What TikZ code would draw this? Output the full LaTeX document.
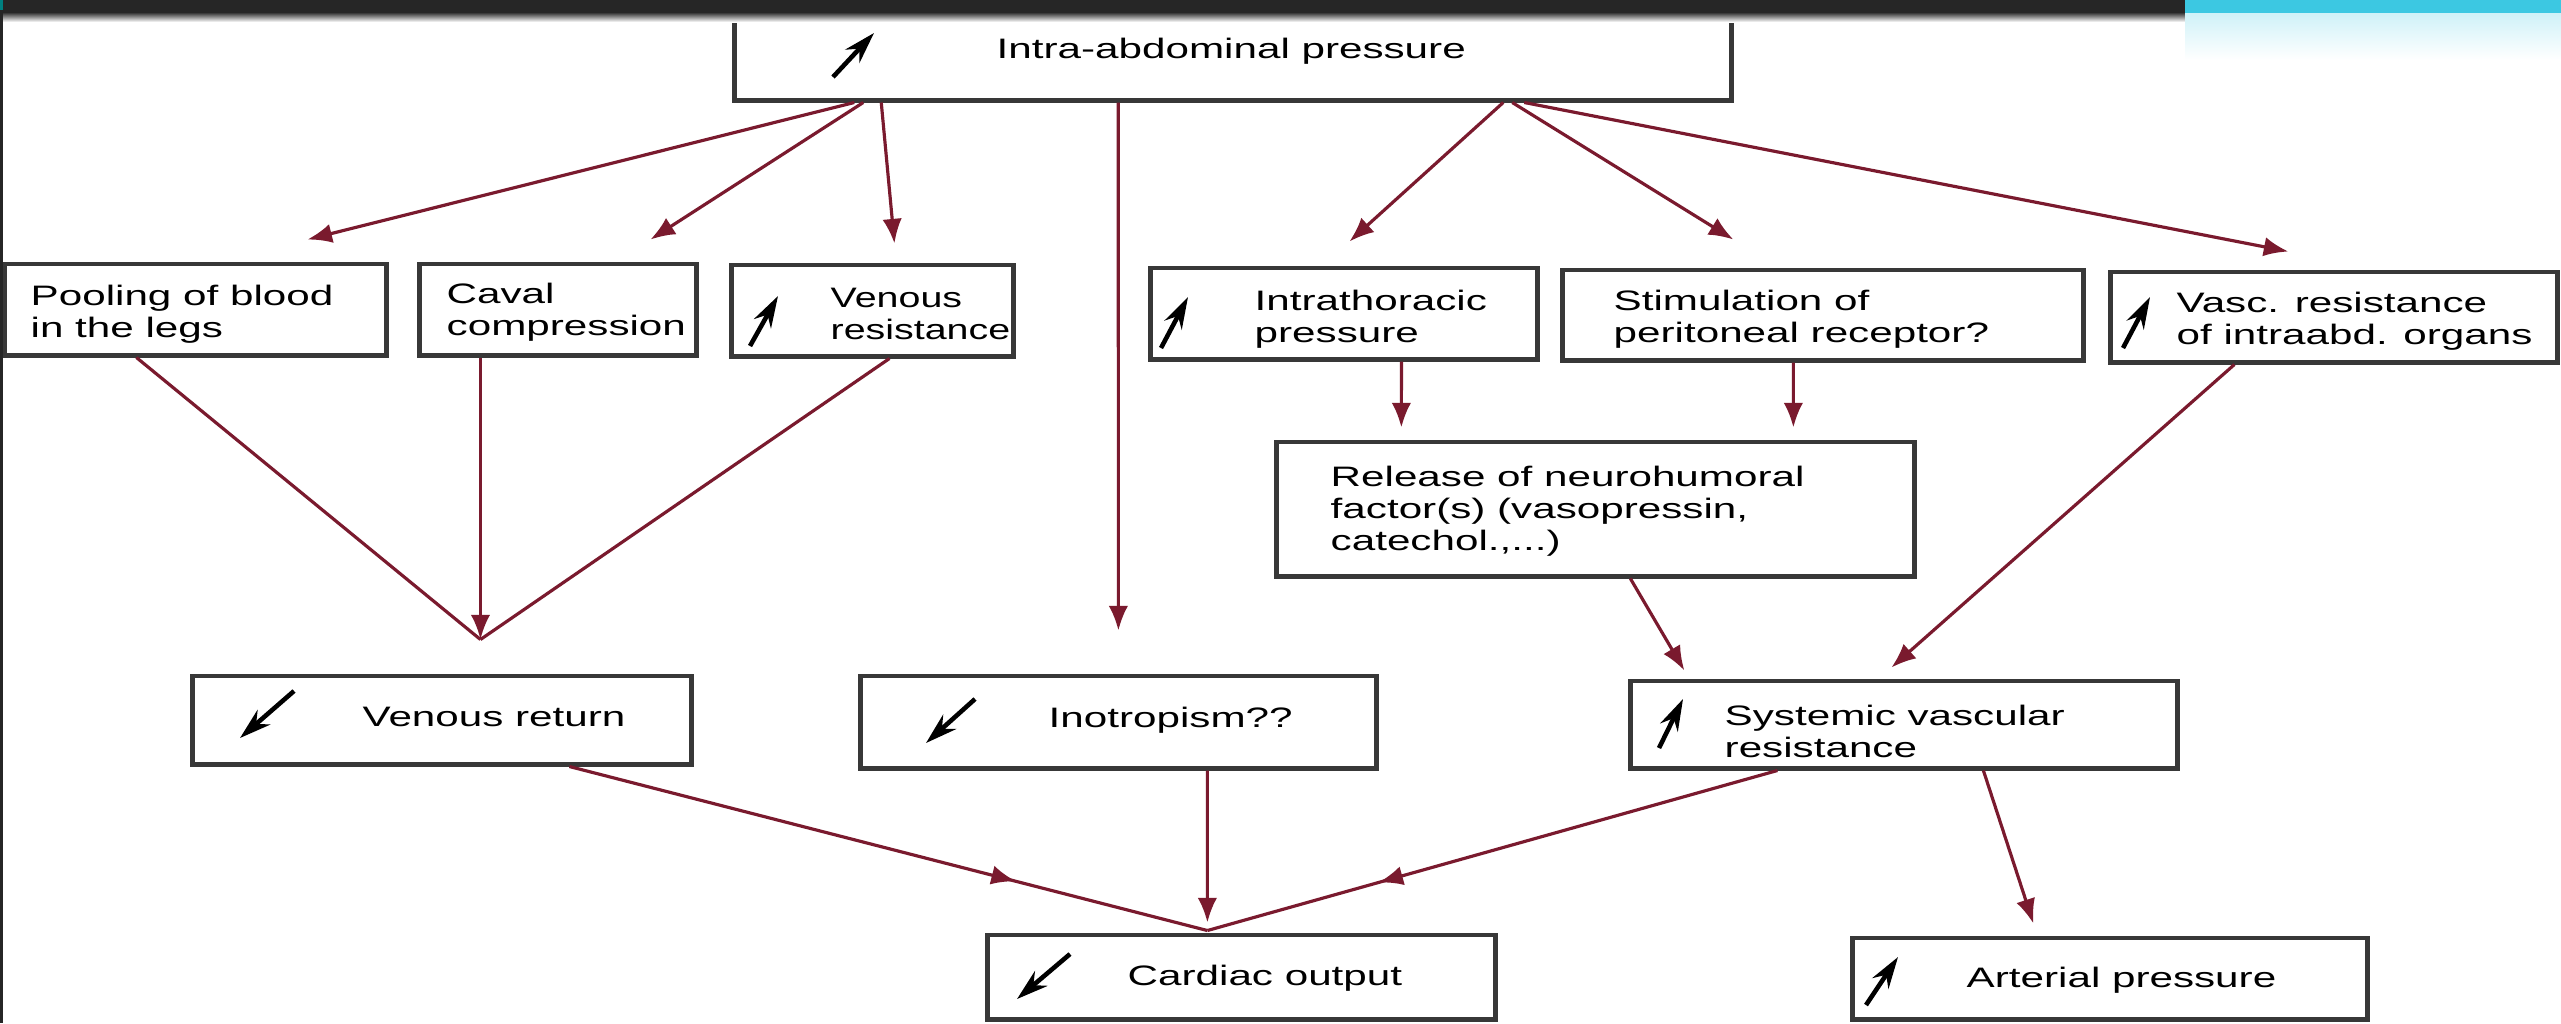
\documentclass[tikz,border=0pt]{standalone}
\usepackage{fontspec}
\setmainfont[FakeStretch=1.5]{Liberation Sans}
\newfontfamily\narrowlbl[FakeStretch=1.4]{Liberation Sans}
\usetikzlibrary{arrows.meta,calc,decorations.markings}
\definecolor{linkred}{HTML}{7A1A2E}
\definecolor{boxgray}{HTML}{383838}
\definecolor{topbar}{HTML}{262626}
\definecolor{cyanbar}{HTML}{3CC8E2}
\begin{document}
\begin{tikzpicture}[x=0.01cm,y=-0.01cm,
  box/.style={draw=boxgray, line width=1.4pt, fill=white, rectangle, inner sep=0pt},
  lbl/.style={anchor=west, align=left, font=\fontsize{8}{9.1}\selectfont, text=black, inner sep=0pt},
  link/.style={draw=linkred, line width=0.9pt, -{Latex[length=7pt,width=5.5pt]}},
  plainlink/.style={draw=linkred, line width=0.9pt},
  midlink/.style={draw=linkred, line width=0.9pt, postaction={decorate},
    decoration={markings, mark=at position 0.7 with {\arrow{Latex[length=7pt,width=5.5pt]}}}},
  icon/.style={draw=black, line width=1.3pt, -{Stealth[length=9pt,width=5.5pt]}}
]
\useasboundingbox (0,0) rectangle (2561,1023);
\clip (0,0) rectangle (2561,1023);
\fill[white] (0,0) rectangle (2561,1023);

% boxes
\node[box, minimum width=9.96cm, minimum height=0.98cm] (top) at (1233,51) {};
\node[box, minimum width=3.81cm, minimum height=0.91cm] (pool) at (195.5,309.5) {};
\node[box, minimum width=2.76cm, minimum height=0.91cm] (caval) at (558,309.5) {};
\node[box, minimum width=2.81cm, minimum height=0.91cm] (venres) at (872.5,310.5) {};
\node[box, minimum width=3.86cm, minimum height=0.91cm] (intra) at (1344,313.5) {};
\node[box, minimum width=5.20cm, minimum height=0.90cm] (stim) at (1823,315) {};
\node[box, minimum width=4.46cm, minimum height=0.90cm] (vasc) at (2334,317) {};
\node[box, minimum width=6.37cm, minimum height=1.34cm] (release) at (1595.5,509) {};
\node[box, minimum width=4.98cm, minimum height=0.88cm] (venret) at (442,720) {};
\node[box, minimum width=5.15cm, minimum height=0.92cm] (ino) at (1118.5,722) {};
\node[box, minimum width=5.46cm, minimum height=0.87cm] (sys) at (1904,724.5) {};
\node[box, minimum width=5.07cm, minimum height=0.84cm] (cardiac) at (1241.5,977) {};
\node[box, minimum width=5.14cm, minimum height=0.81cm] (arterial) at (2110,978.5) {};

% labels
\node[lbl] (ttop) at (996,51) {Intra-abdominal pressure};
\node[lbl] (tpool) at (30,314) {Pooling of blood\\in the legs};
\node[lbl] (tcaval) at (446,312) {Caval\\compression};
\node[lbl, font=\narrowlbl\fontsize{8}{9.1}\selectfont] (tvenres) at (830,314) {Venous\\resistance};
\node[lbl] (tintra) at (1254,319) {Intrathoracic\\pressure};
\node[lbl] (tstim) at (1613,319) {Stimulation of\\peritoneal receptor?};
\node[lbl] (tvasc) at (2176,321) {Vasc. resistance\\of intraabd. organs};
\node[lbl] (trelease) at (1330,511) {Release of neurohumoral\\factor(s) (vasopressin,\\catechol.,...)};
\node[lbl] (tvenret) at (362,717) {Venous return};
\node[lbl] (tino) at (1048,720) {Inotropism??};
\node[lbl] (tsys) at (1724,731) {Systemic vascular\\resistance};
\node[lbl] (tcardiac) at (1127,978) {Cardiac output};
\node[lbl] (tarterial) at (1966,980) {Arterial pressure};

% icons
\draw[icon] (833,77) -- (874,33);
\draw[icon] (750,346) -- (778,296);
\draw[icon] (1161,348) -- (1188,297);
\draw[icon] (2123,348) -- (2150,297);
\draw[icon] (1659,748) -- (1683,699);
\draw[icon] (1866,1005) -- (1898,957);
\draw[icon] (294,691) -- (240,738);
\draw[icon] (975,699) -- (926,743);
\draw[icon] (1070,954) -- (1017,999);

% connectors from the top box
\draw[link] ($(top.south west)+(122,0)$) -- ($(pool.north west)+(305,-22)$);
\draw[link] ($(top.south west)+(131,0)$) -- ($(caval.north west)+(233,-22)$);
\draw[link] ($(top.south west)+(149,0)$) -- ($(venres.north west)+(165,-19)$);
\draw[link] ($(top.south west)+(386,0)$) -- ($(ino.north west)+(260,-43)$);
\draw[link] ($(top.south west)+(771,0)$) -- ($(intra.north west)+(201,-24)$);
\draw[link] ($(top.south west)+(780,0)$) -- ($(stim.north west)+(173,-28)$);
\draw[link] ($(top.south west)+(792,0)$) -- ($(vasc.north west)+(180,-18)$);

% merge to venous return
\coordinate (merge) at ($(caval.south west)+(63,282)$);
\draw[plainlink] ($(pool.south west)+(134,0)$) -- (merge);
\draw[plainlink] ($(venres.south west)+(160,0)$) -- (merge);
\draw[link] ($(caval.south west)+(63,0)$) -- (merge);

% right side
\draw[link] ($(intra.south west)+(253,0)$) -- ($(release.north west)+(127,-12)$);
\draw[link] ($(stim.south west)+(233,0)$) -- ($(release.north west)+(519,-12)$);
\draw[link] ($(release.south west)+(356,0)$) -- ($(sys.north west)+(56,-8)$);
\draw[link] ($(vasc.south west)+(126,0)$) -- ($(sys.north west)+(263,-11)$);

% to outputs
\draw[midlink] ($(venret.south west)+(379,0)$) -- ($(cardiac.north west)+(222,-2)$);
\draw[link] ($(ino.south west)+(349,0)$) -- ($(cardiac.north west)+(222,-10)$);
\draw[midlink] ($(sys.south west)+(149,0)$) -- ($(cardiac.north west)+(222,-2)$);
\draw[link] ($(sys.south west)+(355,0)$) -- ($(arterial.north west)+(183,-12)$);

% frame bars
\shade[top color=topbar, bottom color=white] (0,12) rectangle (2185,22);
\fill[topbar] (0,0) rectangle (2185,12);
\shade[top color=cyanbar!25, bottom color=white] (2185,12) rectangle (2561,60);
\fill[cyanbar] (2185,0) rectangle (2561,13);
\fill[topbar] (0,0) rectangle (3,1023);
\fill[teal] (0,0) rectangle (3,10);
\end{tikzpicture}
\end{document}
